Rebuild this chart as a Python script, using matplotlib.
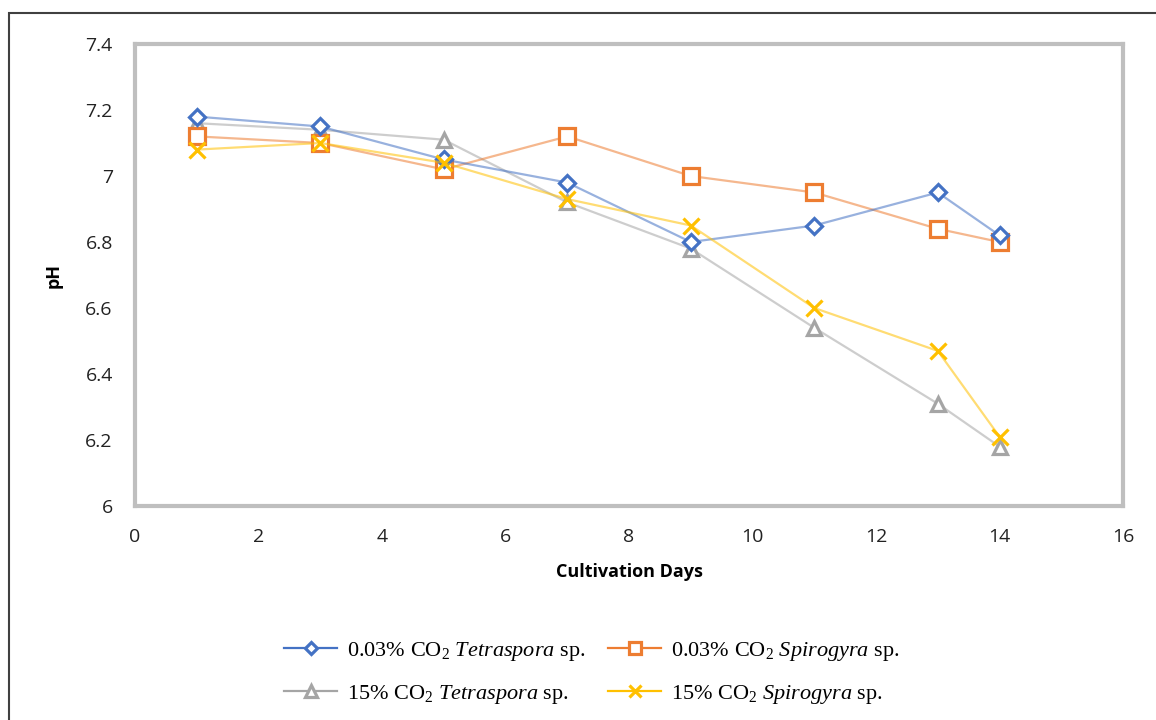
import matplotlib
matplotlib.use("Agg")
from matplotlib import pyplot as plt
from matplotlib.patches import Rectangle

days = [1, 3, 5, 7, 9, 11, 13, 14]
tetra_003 = [7.18, 7.15, 7.05, 6.98, 6.80, 6.85, 6.95, 6.82]
spiro_003 = [7.12, 7.10, 7.02, 7.12, 7.00, 6.95, 6.84, 6.80]
tetra_15 = [7.16, 7.14, 7.11, 6.92, 6.78, 6.54, 6.31, 6.18]
spiro_15 = [7.08, 7.10, 7.04, 6.93, 6.85, 6.60, 6.47, 6.21]

xticks = [0, 2, 4, 6, 8, 10, 12, 14, 16]
yticks = [6, 6.2, 6.4, 6.6, 6.8, 7, 7.2, 7.4]
ylabels = ['6', '6.2', '6.4', '6.6', '6.8', '7', '7.2', '7.4']

plt.rcParams['font.family'] = ['Open Sans', 'DejaVu Sans']
plt.rcParams['mathtext.fontset'] = 'custom'
plt.rcParams['mathtext.rm'] = 'Liberation Serif'
plt.rcParams['mathtext.it'] = 'Liberation Serif:italic'

fig = plt.figure(figsize=(11.56, 7.2), dpi=100)
ax = fig.add_axes([0.1168, 0.2972, 0.8547, 0.6417])

series = [
    (tetra_003, '#4472C4', 'D', 8, r'0.03% CO$_2$ $\mathit{Tetraspora}$ sp.'),
    (tetra_15, '#A5A5A5', '^', 10, r'15% CO$_2$ $\mathit{Tetraspora}$ sp.'),
    (spiro_003, '#ED7D31', 's', 11, r'0.03% CO$_2$ $\mathit{Spirogyra}$ sp.'),
    (spiro_15, '#FFC000', 'x', 11, r'15% CO$_2$ $\mathit{Spirogyra}$ sp.'),
]
zorders = {'#4472C4': 4, '#ED7D31': 3, '#A5A5A5': 2, '#FFC000': 5}

handles = []
for vals, col, mk, ms, lab in series:
    ax.plot(days, vals, '-', color=col, alpha=0.55, lw=1.6, zorder=zorders[col])
    ax.plot(days, vals, mk, color=col, mfc='white' if mk != 'x' else col,
            mec=col, mew=2.3, ms=ms, ls='none', zorder=zorders[col] + 0.5)
    h, = plt.plot([], [], '-', color=col, lw=1.6, marker=mk, ms=ms * 0.8,
                  mfc='white', mec=col, mew=2.3)
    handles.append((h, lab))

ax.set_xlim(0, 16)
ax.set_ylim(6, 7.4)
ax.set_xticks(xticks)
ax.set_yticks(yticks)
ax.set_yticklabels(ylabels)
ax.tick_params(length=0, labelsize=14, colors='#222222', pad=16)
for s in ax.spines.values():
    s.set_color('#BFBFBF')
    s.set_linewidth(3)
ax.set_xlabel('Cultivation Days', fontsize=13, fontweight='bold', labelpad=12)
ax.set_ylabel('pH', fontsize=13, fontweight='bold', labelpad=16)

leg = fig.legend([h for h, _ in handles], [l for _, l in handles], ncol=2,
                 loc='center', bbox_to_anchor=(0.512, 0.065), frameon=False,
                 prop={'family': 'Liberation Serif', 'size': 16},
                 handlelength=2.4, columnspacing=1.0, labelspacing=0.9,
                 handletextpad=0.45)

# outer frame around the whole figure (cut off at right and bottom)
frame = Rectangle((9 / 1156, -0.5), 1.5, 1.5 - 13 / 720,
                  transform=fig.transFigure, fill=False, ec='#404040', lw=1.5)
fig.patches.append(frame)

plt.savefig('out.png', dpi=100)
